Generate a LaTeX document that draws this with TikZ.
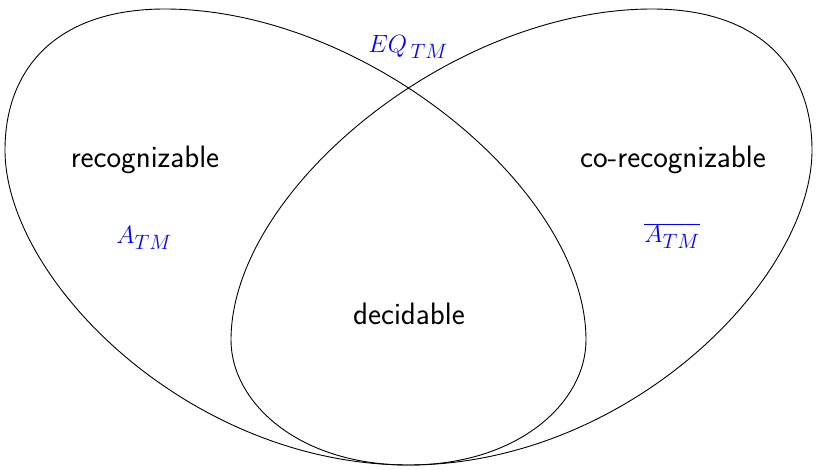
\documentclass[tikz,border=0pt]{standalone}
\usepackage{xcolor}
\begin{document}
\begin{tikzpicture}[x=1pt,y=-1pt,
  setline/.style={draw=black, line width=0.9pt},
  lab/.style={font=\fontsize{31}{36}\selectfont\sffamily, inner sep=0pt},
  mlab/.style={font=\fontsize{31.5}{36}\selectfont, text=blue, inner sep=0pt}]
\useasboundingbox (0,0) rectangle (817,469);
\coordinate (bl) at (409,465);
\coordinate (br) at (408,465);
\draw[setline] (bl) .. controls (190,465) and (5,280) .. (5,150)
  .. controls (5,70) and (55,9) .. (165,9)
  .. controls (365,9) and (586,190) .. (586,340)
  .. controls (586,402) and (519,465) .. (bl) -- cycle;
\draw[setline] (br) .. controls (627,465) and (812,280) .. (812,150)
  .. controls (812,70) and (762,9) .. (652,9)
  .. controls (452,9) and (231,190) .. (231,340)
  .. controls (231,402) and (298,465) .. (br) -- cycle;
\node[lab] (rec) at (145,160) {recognizable};
\node[lab] (corec) at (673,160) {co-recognizable};
\node[lab] (dec) at (409,314) {decidable};
\node[mlab] (atm) at (144,238) {$A_{TM}$};
\node[mlab] (atmc) at (672,236) {$\overline{A_{TM}}$};
\node[mlab] (eq) at (408,47) {$EQ_{\,TM}$};
\end{tikzpicture}
\end{document}
